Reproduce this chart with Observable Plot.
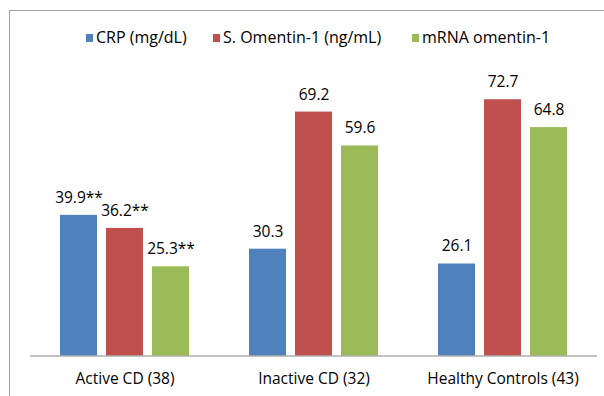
<!DOCTYPE html>
<html>
<head>
<meta charset="utf-8">
<script src="https://cdn.jsdelivr.net/npm/d3@7"></script>
<script src="https://cdn.jsdelivr.net/npm/@observablehq/plot@0.6"></script>
<style>
  html, body { margin: 0; padding: 0; background: #fff; }
  #wrap { position: relative; width: 604px; height: 396px; overflow: hidden; font-family: "Open Sans", sans-serif; }
  #frame { position: absolute; left: 9px; top: 10px; width: 700px; height: 500px;
           border-left: 1.5px solid #a3a3a3; border-top: 1.5px solid #a3a3a3; }
  #legend { position: relative; height: 60px; }
  .item { position: absolute; top: 29px; display: flex; align-items: center; font-size: 16px; color: #000; line-height: 17px; white-space: nowrap; }
  .sw { width: 7px; height: 8px; margin-right: 3px; }
  #chart { position: relative; }
  #chart svg { display: block; }
</style>
</head>
<body>
<div id="wrap">
  <div id="frame"></div>
  <div id="legend"></div>
  <div id="chart"></div>
</div>
<script>
const groups = ["Active CD (38)", "Inactive CD (32)", "Healthy Controls (43)"];
const series = ["CRP (mg/dL)", "S. Omentin-1 (ng/mL)", "mRNA omentin-1"];
const crp = [39.9, 30.3, 26.1];
const omentin = [36.2, 69.2, 72.7];
const mrna = [25.3, 59.6, 64.8];
const crpLabels = ["39.9**", "30.3", "26.1"];
const omentinLabels = ["36.2**", "69.2", "72.7"];
const mrnaLabels = ["25.3**", "59.6", "64.8"];
const colors = ["#4F81BD", "#C0504D", "#9BBB59"];

const valuesBySeries = [crp, omentin, mrna];
const labelsBySeries = [crpLabels, omentinLabels, mrnaLabels];
const rows = [];
groups.forEach((g, gi) => {
  series.forEach((s, si) => {
    rows.push({group: g, series: s, value: valuesBySeries[si][gi], label: labelsBySeries[si][gi]});
  });
});

// legend
const legendLeft = [86, 213, 412];
const legend = document.getElementById("legend");
series.forEach((s, i) => {
  const it = document.createElement("div");
  it.className = "item";
  it.style.left = legendLeft[i] + "px";
  const sw = document.createElement("span");
  sw.className = "sw";
  sw.style.background = colors[i];
  const tx = document.createElement("span");
  tx.textContent = s;
  it.appendChild(sw);
  it.appendChild(tx);
  legend.appendChild(it);
});

const chart = Plot.plot({
  width: 604,
  height: 336,
  marginTop: 13.5,
  marginBottom: 40.5,
  marginLeft: 29,
  marginRight: 6,
  style: {fontFamily: "'Open Sans', sans-serif", fontSize: "15.5px", color: "#000", background: "transparent", overflow: "visible"},
  facet: {data: rows, x: "group"},
  fx: {domain: groups, padding: 0, label: null, axis: "bottom", tickSize: 0, tickPadding: 17},
  x: {domain: series, paddingInner: 0.1915, paddingOuter: 0.6117, axis: null},
  y: {domain: [0, 80], axis: null},
  color: {domain: series, range: colors},
  marks: [
    Plot.barY(rows, {x: "series", y: "value", fill: "series"}),
    Plot.ruleY([0], {stroke: "#868686", strokeWidth: 1}),
    Plot.text(rows, {x: "series", y: "value", text: "label", lineAnchor: "bottom", dy: -12.5, fontSize: 15.5, fill: "#000"})
  ]
});
document.getElementById("chart").appendChild(chart);
</script>
</body>
</html>
